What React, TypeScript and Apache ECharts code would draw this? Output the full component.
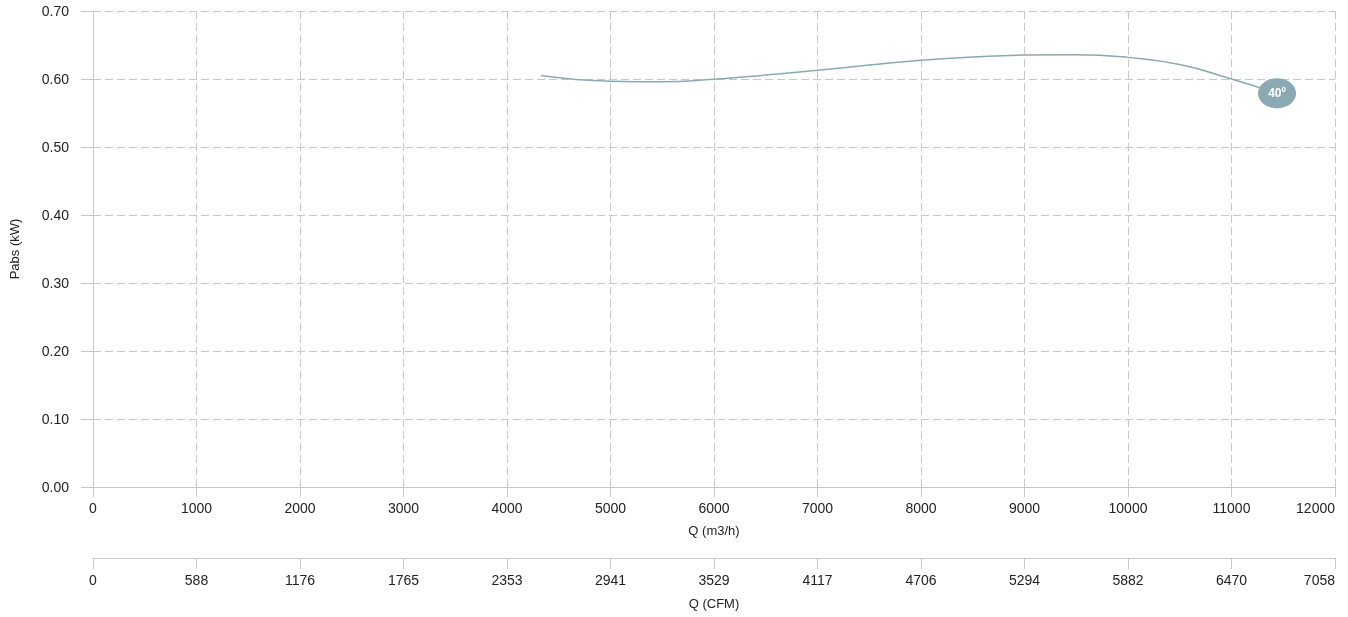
import React, { useEffect, useRef } from "react";
import * as echarts from "echarts";

const flowM3h = [4330, 5000, 5500, 6000, 6500, 7000, 7500, 8000, 8500, 9000, 9500, 10000, 10500, 11000, 11440];
const powerKW = [0.605, 0.5966, 0.5958, 0.5996, 0.6058, 0.6128, 0.6205, 0.6275, 0.6322, 0.6352, 0.6358, 0.6318, 0.6212, 0.6, 0.579];
const curveLabel = "40º";
const cfmTicks = ["0", "588", "1176", "1765", "2353", "2941", "3529", "4117", "4706", "5294", "5882", "6470", "7058"];

const FONT = "'Liberation Sans', Arial, sans-serif";
const LINE = "#8aa9b3";
const GRID = "#c8c8c8";
const TEXT = "#222222";

export default function App() {
  const ref = useRef<HTMLDivElement>(null);
  useEffect(() => {
    if (!ref.current) return;
    const chart = echarts.init(ref.current, undefined, { renderer: "svg" });
    const data = flowM3h.map((x, i) => {
      const last = i === flowM3h.length - 1;
      if (!last) return [x, powerKW[i]];
      return {
        value: [x, powerKW[i]],
        symbol: "circle",
        symbolSize: [38, 30],
        itemStyle: { color: LINE },
        label: {
          show: true,
          position: "inside",
          formatter: curveLabel,
          color: "#ffffff",
          fontWeight: "bold",
          fontSize: 12,
          fontFamily: FONT,
        },
      };
    });
    chart.setOption({
      animation: false,
      textStyle: { fontFamily: FONT },
      grid: { left: 93, right: 13, top: 11, bottom: 130, outerBoundsMode: "none", containLabel: false },
      xAxis: [
        {
          type: "value",
          min: 0,
          max: 12000,
          interval: 1000,
          position: "bottom",
          name: "Q (m3/h)",
          nameLocation: "middle",
          nameGap: 37,
          nameTextStyle: { color: TEXT, fontSize: 13, fontFamily: FONT },
          axisLine: { show: true, lineStyle: { color: GRID } },
          axisTick: { show: true, length: 10, lineStyle: { color: GRID } },
          axisLabel: {
            color: TEXT,
            fontSize: 14,
            fontFamily: FONT,
            margin: 14,
            alignMaxLabel: "right",
            formatter: (v: number) => String(v),
          },
          splitLine: { show: true, lineStyle: { color: GRID, type: [8, 4] } },
        },
        {
          type: "value",
          min: 0,
          max: 12000,
          interval: 1000,
          position: "bottom",
          offset: 71,
          name: "Q (CFM)",
          nameLocation: "middle",
          nameGap: 39,
          nameTextStyle: { color: TEXT, fontSize: 13, fontFamily: FONT },
          axisLine: { show: true, lineStyle: { color: GRID } },
          axisTick: { show: true, length: 11, lineStyle: { color: GRID } },
          axisLabel: {
            color: TEXT,
            fontSize: 14,
            fontFamily: FONT,
            margin: 15,
            alignMaxLabel: "right",
            formatter: (v: number) => cfmTicks[Math.round(v / 1000)] ?? "",
          },
          splitLine: { show: false },
        },
      ],
      yAxis: {
        type: "value",
        min: 0,
        max: 0.7,
        interval: 0.1,
        name: "Pabs (kW)",
        nameLocation: "middle",
        nameGap: 72,
        nameTextStyle: { color: TEXT, fontSize: 13, fontFamily: FONT },
        axisLine: { show: true, lineStyle: { color: GRID } },
        axisTick: { show: true, length: 12, lineStyle: { color: GRID } },
        axisLabel: {
          color: TEXT,
          fontSize: 14,
          fontFamily: FONT,
          margin: 24,
          formatter: (v: number) => v.toFixed(2),
        },
        splitLine: { show: true, lineStyle: { color: GRID, type: [8, 4] } },
      },
      series: [
        {
          type: "line",
          xAxisIndex: 0,
          smooth: true,
          symbol: "none",
          lineStyle: { color: LINE, width: 1.5 },
          itemStyle: { color: LINE },
          data,
          z: 3,
        },
      ],
    });
    return () => chart.dispose();
  }, []);
  return (
    <div
      ref={ref}
      style={{ position: "fixed", left: 0, top: 0, width: 1348, height: 617 }}
    />
  );
}
